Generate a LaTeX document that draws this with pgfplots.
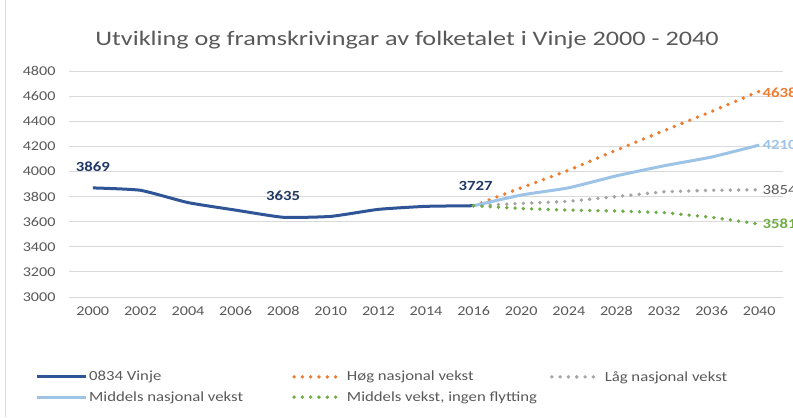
\documentclass[border=0pt]{standalone}
\usepackage{fontspec}
\setmainfont{Carlito}
\usepackage{pgfplots}
\pgfplotsset{compat=1.18}
\definecolor{vinje}{HTML}{2F5597}
\definecolor{hog}{HTML}{ED7D31}
\definecolor{lag}{HTML}{A5A5A5}
\definecolor{midblue}{HTML}{9DC3E6}
\definecolor{grn}{HTML}{70AD47}
\definecolor{txtgray}{HTML}{595959}
\definecolor{gridgray}{HTML}{D9D9D9}
\definecolor{lblblue}{HTML}{203864}
\tikzset{dots/.style={line width=3.8bp, dash pattern=on 0pt off 8.3bp, line cap=round}}
% the reference is stretched sideways
\newcommand\sx[1]{\scalebox{1.2}[1]{#1}}

\begin{document}
\begin{tikzpicture}[x=1bp,y=1bp]
\useasboundingbox (0,0) rectangle (793,417);
\draw[gridgray] (5,0) -- (5,417);
\node[txtgray, font=\fontsize{20.7}{24}\selectfont] at (407,377) {\scalebox{1.27}[1]{Utvikling og framskrivingar av folketalet i Vinje 2000 - 2040}};
\begin{axis}[at={(69bp,120bp)}, anchor=south west, scale only axis,
  width=714bp, height=226bp,
  xmin=-0.5, xmax=14.5, ymin=3000, ymax=4800,
  xtick={0,...,14},
  xticklabels={\sx{2000},\sx{2002},\sx{2004},\sx{2006},\sx{2008},\sx{2010},\sx{2012},\sx{2014},\sx{2016},\sx{2020},\sx{2024},\sx{2028},\sx{2032},\sx{2036},\sx{2040}},
  ytick={3000,3200,...,4800},
  yticklabel={\sx{\pgfmathprintnumber{\tick}}},
  ymajorgrids, grid style={gridgray, line width=0.8bp},
  axis line style={draw=none}, major tick length=0pt,
  tick label style={txtgray, font=\fontsize{13.5}{16}\selectfont, /pgf/number format/assume math mode=true, /pgf/number format/1000 sep={}},
  yticklabel style={xshift=-10bp}, xticklabel style={yshift=-6bp},
  clip=false,
  legend columns=3,
  legend style={draw=none, fill=none, at={(-37bp,-70bp)}, anchor=north west,
    font=\fontsize{14}{16}\selectfont, text=txtgray,
    cells={anchor=west, inner xsep=1.5bp, inner ysep=1bp}, row sep=5bp},
  legend image code/.code={\draw[#1] (0bp,0bp) -- (49bp,0bp);},
]
\addplot[vinje, line width=3bp, smooth, tension=0.3] coordinates {(0,3869)(1,3850)(2,3752)(3,3692)(4,3635)(5,3642)(6,3698)(7,3722)(8,3727)};
\addlegendentry{\makebox[201bp][l]{\sx{0834 Vinje}}}
\addplot[hog, dots] coordinates {(8,3727)(9,3870)(10,4010)(11,4170)(12,4325)(13,4478)(14,4638)};
\addlegendentry{\makebox[201bp][l]{\sx{Høg nasjonal vekst}}}
\addplot[lag, dots] coordinates {(8,3727)(9,3745)(10,3762)(11,3800)(12,3838)(13,3850)(14,3854)};
\addlegendentry{\makebox[201bp][l]{\sx{Låg nasjonal vekst}}}
\addplot[midblue, line width=3bp, smooth, tension=0.3] coordinates {(8,3727)(9,3812)(10,3870)(11,3965)(12,4045)(13,4115)(14,4210)};
\addlegendentry{\makebox[201bp][l]{\sx{Middels nasjonal vekst}}}
\addplot[grn, dots] coordinates {(8,3727)(9,3705)(10,3692)(11,3685)(12,3672)(13,3635)(14,3581)};
\addlegendentry{\makebox[201bp][l]{\sx{Middels vekst, ingen flytting}}}
\begin{scope}[font=\bfseries\fontsize{14}{17}\selectfont]
\node[lblblue] at (axis cs:0,3869) [yshift=21bp] {\sx{3869}};
\node[lblblue] at (axis cs:4,3635) [yshift=21bp] {\sx{3635}};
\node[lblblue] at (axis cs:8,3727) [yshift=20bp, xshift=2bp] {\sx{3727}};
\node[hog, anchor=west] at (axis cs:14,4638) [yshift=-1bp] {\sx{4638}};
\node[midblue, anchor=west] at (axis cs:14,4210) {\sx{4210}};
\node[grn, anchor=west] at (axis cs:14,3581) {\sx{3581}};
\end{scope}
\node[txtgray, anchor=west, font=\fontsize{14}{17}\selectfont] at (axis cs:14,3854) {\sx{3854}};
\end{axis}
\end{tikzpicture}
\end{document}
